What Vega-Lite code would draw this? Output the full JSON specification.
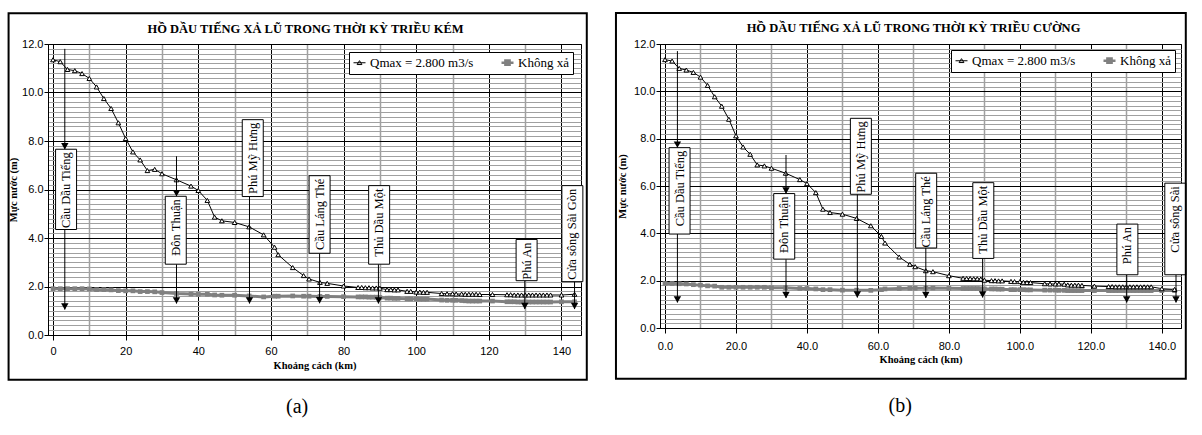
{
  "$schema": "https://vega.github.io/schema/vega-lite/v6.json",
  "background": "white",
  "padding": {"left": 7, "top": 11, "right": 0, "bottom": 0},
  "spacing": 79,
  "bounds": "flush",
  "resolve": {"scale": {"x": "independent", "y": "independent", "color": "independent"}, "legend": {"color": "independent"}},
  "datasets": {
    "a": [
      {"km":0,"q":11.35,"k":1.91},{"km":2,"q":11.27,"k":1.91},{"km":4,"q":10.95,"k":1.91},{"km":6,"q":10.9,"k":1.91},{"km":8,"q":10.78,"k":1.91},{"km":10,"q":10.58,"k":1.9},{"km":12,"q":10.23,"k":1.87},{"km":14,"q":9.75,"k":1.87},{"km":16,"q":9.34,"k":1.86},{"km":18,"q":8.75,"k":1.83},{"km":20,"q":8.1,"k":1.82},{"km":22,"q":7.55,"k":1.82},{"km":24,"q":7.22,"k":1.79},{"km":26,"q":6.78,"k":1.79},{"km":28,"q":6.83,"k":1.78},{"km":30,"q":6.65,"k":1.75},{"km":34,"q":6.4,"k":1.71},{"km":38,"q":6.14,"k":1.69},{"km":40,"q":5.96,"k":1.68},{"km":42.5,"q":5.55,"k":1.68},{"km":44.5,"q":4.86,"k":1.65},{"km":46.5,"q":4.71,"k":1.64},{"km":50,"q":4.64,"k":1.64},{"km":54,"q":4.46,"k":1.61},{"km":58,"q":4.13,"k":1.57},{"km":61,"q":3.62,"k":1.6},{"km":62,"q":3.31,"k":1.6},{"km":66,"q":2.78,"k":1.61},{"km":69,"q":2.45,"k":1.6},{"km":70.5,"q":2.31,"k":1.6},{"km":73.5,"q":2.17,"k":1.59},{"km":75.5,"q":2.13,"k":1.59},{"km":80,"q":2.02,"k":1.58},{"km":84,"q":1.96,"k":1.57},{"km":85,"q":1.96,"k":1.57},{"km":86,"q":1.95,"k":1.57},{"km":87,"q":1.95,"k":1.56},{"km":88,"q":1.94,"k":1.56},{"km":89,"q":1.94,"k":1.56},{"km":90,"q":1.93,"k":1.55},{"km":92,"q":1.87,"k":1.52},{"km":93,"q":1.87,"k":1.52},{"km":94,"q":1.86,"k":1.51},{"km":95,"q":1.86,"k":1.51},{"km":97.5,"q":1.8,"k":1.49},{"km":98.5,"q":1.8,"k":1.49},{"km":100,"q":1.77,"k":1.49},{"km":101,"q":1.77,"k":1.48},{"km":102,"q":1.76,"k":1.48},{"km":103,"q":1.76,"k":1.48},{"km":107,"q":1.71,"k":1.44},{"km":108.5,"q":1.7,"k":1.43},{"km":110,"q":1.7,"k":1.43},{"km":111,"q":1.69,"k":1.43},{"km":112.5,"q":1.69,"k":1.42},{"km":113.5,"q":1.68,"k":1.41},{"km":114.5,"q":1.68,"k":1.4},{"km":115.5,"q":1.68,"k":1.4},{"km":116.5,"q":1.68,"k":1.4},{"km":117.5,"q":1.67,"k":1.4},{"km":121,"q":1.67,"k":1.4},{"km":125,"q":1.66,"k":1.37},{"km":126,"q":1.66,"k":1.37},{"km":127,"q":1.65,"k":1.37},{"km":128,"q":1.65,"k":1.36},{"km":129,"q":1.65,"k":1.36},{"km":130,"q":1.65,"k":1.36},{"km":131,"q":1.65,"k":1.36},{"km":132,"q":1.65,"k":1.36},{"km":133,"q":1.65,"k":1.36},{"km":134,"q":1.65,"k":1.36},{"km":135,"q":1.65,"k":1.36},{"km":136,"q":1.65,"k":1.36},{"km":137,"q":1.65,"k":1.36},{"km":140,"q":1.65,"k":1.37},{"km":143.6,"q":1.68,"k":1.37}
    ],
    "b": [
      {"km":0,"q":11.34,"k":1.88},{"km":2,"q":11.28,"k":1.88},{"km":4,"q":10.97,"k":1.87},{"km":6,"q":10.9,"k":1.86},{"km":8,"q":10.8,"k":1.83},{"km":10,"q":10.6,"k":1.81},{"km":12,"q":10.25,"k":1.78},{"km":14,"q":9.77,"k":1.77},{"km":16,"q":9.37,"k":1.72},{"km":18,"q":8.82,"k":1.72},{"km":20,"q":8.12,"k":1.72},{"km":22,"q":7.65,"k":1.72},{"km":24,"q":7.34,"k":1.72},{"km":26,"q":6.89,"k":1.72},{"km":28,"q":6.85,"k":1.72},{"km":30,"q":6.75,"k":1.7},{"km":34,"q":6.54,"k":1.7},{"km":38,"q":6.27,"k":1.67},{"km":40,"q":6.1,"k":1.67},{"km":42.5,"q":5.72,"k":1.65},{"km":44.5,"q":5.02,"k":1.62},{"km":46.5,"q":4.88,"k":1.62},{"km":50,"q":4.81,"k":1.6},{"km":54,"q":4.63,"k":1.6},{"km":58,"q":4.32,"k":1.59},{"km":61,"q":3.87,"k":1.62},{"km":62,"q":3.59,"k":1.65},{"km":66,"q":3.0,"k":1.67},{"km":69,"q":2.69,"k":1.68},{"km":70.5,"q":2.59,"k":1.68},{"km":73.5,"q":2.42,"k":1.68},{"km":75.5,"q":2.38,"k":1.69},{"km":80,"q":2.21,"k":1.68},{"km":84,"q":2.1,"k":1.67},{"km":85,"q":2.09,"k":1.67},{"km":86,"q":2.09,"k":1.67},{"km":87,"q":2.08,"k":1.67},{"km":88,"q":2.08,"k":1.67},{"km":89,"q":2.07,"k":1.66},{"km":90,"q":2.02,"k":1.65},{"km":92,"q":2.0,"k":1.65},{"km":93,"q":2.0,"k":1.65},{"km":94,"q":1.99,"k":1.64},{"km":95,"q":1.99,"k":1.64},{"km":97.5,"q":1.97,"k":1.62},{"km":98.5,"q":1.96,"k":1.62},{"km":100,"q":1.96,"k":1.62},{"km":101,"q":1.93,"k":1.62},{"km":102,"q":1.92,"k":1.61},{"km":103,"q":1.92,"k":1.61},{"km":107,"q":1.87,"k":1.6},{"km":108.5,"q":1.86,"k":1.6},{"km":110,"q":1.86,"k":1.6},{"km":111,"q":1.86,"k":1.59},{"km":112.5,"q":1.85,"k":1.59},{"km":113.5,"q":1.82,"k":1.58},{"km":114.5,"q":1.81,"k":1.58},{"km":115.5,"q":1.81,"k":1.58},{"km":116.5,"q":1.81,"k":1.58},{"km":117.5,"q":1.8,"k":1.58},{"km":121,"q":1.77,"k":1.58},{"km":125,"q":1.75,"k":1.58},{"km":126,"q":1.75,"k":1.58},{"km":127,"q":1.74,"k":1.58},{"km":128,"q":1.74,"k":1.58},{"km":129,"q":1.74,"k":1.58},{"km":130,"q":1.74,"k":1.58},{"km":131,"q":1.74,"k":1.58},{"km":132,"q":1.74,"k":1.58},{"km":133,"q":1.74,"k":1.58},{"km":134,"q":1.74,"k":1.58},{"km":135,"q":1.74,"k":1.58},{"km":136,"q":1.74,"k":1.58},{"km":137,"q":1.74,"k":1.58},{"km":140,"q":1.66,"k":1.58},{"km":143.6,"q":1.63,"k":1.58}
    ],
    "labA": [
      {"name":"Cầu Dầu Tiếng","km":3.6,"top":7.66,"bottom":4.35},
      {"name":"Đôn Thuận","km":33.8,"top":5.72,"bottom":2.92},
      {"name":"Phú Mỹ Hưng","km":55.0,"top":8.88,"bottom":5.71},
      {"name":"Cầu Láng Thé","km":73.4,"top":6.57,"bottom":3.37},
      {"name":"Thủ Dầu Một","km":89.8,"top":6.16,"bottom":2.92},
      {"name":"Phú An","km":130.4,"top":3.94,"bottom":2.24},
      {"name":"Cửa sông Sài Gòn","km":143.0,"top":6.16,"bottom":2.2}
    ],
    "arrA": [
      {"km":3.25,"from":11.8,"to":7.66},
      {"km":3.25,"from":4.35,"to":1.05},
      {"km":34.0,"from":7.37,"to":5.72},
      {"km":34.0,"from":2.92,"to":1.3},
      {"km":54.1,"from":5.71,"to":1.3},
      {"km":73.4,"from":3.37,"to":1.31},
      {"km":89.6,"from":2.92,"to":1.3},
      {"km":129.9,"from":2.24,"to":1.07},
      {"km":143.6,"from":2.2,"to":1.07}
    ],
    "labB": [
      {"name":"Cầu Dầu Tiếng","km":4.1,"top":7.62,"bottom":3.97},
      {"name":"Đôn Thuận","km":33.6,"top":5.68,"bottom":2.91},
      {"name":"Phú Mỹ Hưng","km":55.2,"top":8.86,"bottom":5.65},
      {"name":"Cầu Láng Thé","km":73.6,"top":6.54,"bottom":3.38},
      {"name":"Thủ Dầu Một","km":89.7,"top":6.14,"bottom":2.94},
      {"name":"Phú An","km":130.3,"top":4.39,"bottom":2.25},
      {"name":"Cửa sông Sài","km":143.8,"top":6.12,"bottom":2.25}
    ],
    "arrB": [
      {"km":3.5,"from":11.7,"to":7.62},
      {"km":3.5,"from":3.97,"to":1.08},
      {"km":34.1,"from":7.31,"to":5.68},
      {"km":34.1,"from":2.91,"to":1.27},
      {"km":54.2,"from":5.65,"to":1.29},
      {"km":73.5,"from":3.38,"to":1.27},
      {"km":89.5,"from":2.94,"to":1.29},
      {"km":130.1,"from":2.25,"to":1.08},
      {"km":144,"from":2.25,"to":1.08}
    ]
  },
  "hconcat": [
    {
      "width": 533,
      "height": 291,
      "title": {"text": "HỒ DẦU TIẾNG XẢ LŨ TRONG THỜI KỲ TRIỀU KÉM", "anchor": "middle", "frame": "group", "dx": -9, "offset": -23},
      "resolve": {"axis": {"x": "independent", "y": "independent"}},
      "layer": [
        {
          "data": {"name": "a"},
          "transform": [{"fold": ["k", "q"], "as": ["series", "level"]}],
          "mark": {"type": "line"},
          "encoding": {
            "x": {"field": "km", "type": "quantitative", "title": "Khoảng cách (km)", "scale": {"domain": [0, 144], "nice": false, "zero": false},
              "axis": {"grid": true, "gridColor": "black", "gridWidth": 1, "values": [0,20,40,60,80,100,120,140], "format": "d", "labelFlush": false, "labelOverlap": false,
                "tickSize": 5, "labelPadding": 5, "titlePadding": 4}},
            "y": {"field": "level", "type": "quantitative", "title": "Mực nước (m)", "scale": {"domain": [0, 12], "nice": false},
              "axis": {"grid": true, "gridColor": "black", "gridWidth": 1, "values": [0,2,4,6,8,10,12], "format": ".1f", "labelOverlap": false, "labelFlush": false,
                "tickSize": 4, "labelPadding": 1, "titlePadding": 3}},
            "color": {"field": "series", "type": "nominal", "scale": {"domain": ["q", "k"], "range": ["black", "#808080"]},
              "legend": {"title": null, "orient": "top-right", "offset": 8, "direction": "horizontal",
                "strokeColor": "black", "fillColor": "white", "padding": 4, "columnPadding": 22,
                "labelFont": "Liberation Serif", "labelFontSize": 13, "labelColor": "black", "labelOffset": 4,
                "labelExpr": "datum.value === 'q' ? 'Qmax = 2.800 m3/s' : 'Không xả'",
                "symbolType": "M-1,0H1", "symbolSize": 144,
                "encode": {"symbols": {"update": {
                  "shape": {"signal": "datum.value === 'q' ? 'M-1,0H1M-0.4,0.3L0,-0.35L0.4,0.3Z' : 'M-1,0H1M-0.35,-0.35H0.35V0.35H-0.35Z'"},
                  "fill": {"signal": "datum.value === 'q' ? 'white' : '#808080'"},
                  "stroke": {"signal": "datum.value === 'q' ? 'black' : '#808080'"},
                  "strokeWidth": {"signal": "datum.value === 'q' ? 1 : 2.5"},
                  "opacity": {"value": 1}}}}}},
            "strokeWidth": {"condition": {"test": "datum.series === 'k'", "value": 3}, "value": 1}
          }
        },
        {
          "data": {"name": "a"},
          "mark": {"type": "point", "shape": "square", "filled": true, "color": "#808080", "size": 22, "opacity": 1},
          "encoding": {
            "x": {"field": "km", "type": "quantitative", "scale": {"domain": [0, 144], "nice": false, "zero": false},
              "axis": {"orient": "top", "grid": true, "gridColor": "#a0a0a0", "gridWidth": 1.5, "values": [10,30,50,70,90,110,130], "labels": false, "ticks": false, "domain": false, "title": null}},
            "y": {"field": "k", "type": "quantitative", "scale": {"domain": [0, 12], "nice": false},
              "axis": {"orient": "right", "grid": true, "gridColor": "#a0a0a0", "gridWidth": 1, "values": [0.2,0.4,0.6,0.8,1,1.2,1.4,1.6,1.8,2.2,2.4,2.6,2.8,3,3.2,3.4,3.6,3.8,4.2,4.4,4.6,4.8,5,5.2,5.4,5.6,5.8,6.2,6.4,6.6,6.8,7,7.2,7.4,7.6,7.8,8.2,8.4,8.6,8.8,9,9.2,9.4,9.6,9.8,10.2,10.4,10.6,10.8,11,11.2,11.4,11.6,11.8], "labels": false, "ticks": false, "domain": false, "title": null}}
          }
        },
        {
          "data": {"name": "a"},
          "mark": {"type": "point", "shape": "triangle-up", "fill": "white", "stroke": "black", "strokeWidth": 1, "size": 22, "opacity": 1},
          "encoding": {
            "x": {"field": "km", "type": "quantitative", "scale": {"domain": [0, 144], "nice": false, "zero": false}, "axis": null},
            "y": {"field": "q", "type": "quantitative", "scale": {"domain": [0, 12], "nice": false}, "axis": null}
          }
        },
        {
          "data": {"name": "arrA"},
          "mark": {"type": "rule", "color": "black", "strokeWidth": 1},
          "encoding": {
            "x": {"field": "km", "type": "quantitative", "scale": {"domain": [0, 144], "nice": false, "zero": false}, "axis": null},
            "y": {"field": "from", "type": "quantitative", "scale": {"domain": [0, 12], "nice": false}, "axis": null},
            "y2": {"field": "to"}
          }
        },
        {
          "data": {"name": "arrA"},
          "mark": {"type": "point", "shape": "triangle-down", "filled": true, "color": "black", "size": 55, "yOffset": -3, "opacity": 1},
          "encoding": {
            "x": {"field": "km", "type": "quantitative", "scale": {"domain": [0, 144], "nice": false, "zero": false}, "axis": null},
            "y": {"field": "to", "type": "quantitative", "scale": {"domain": [0, 12], "nice": false}, "axis": null}
          }
        },
        {
          "data": {"name": "labA"},
          "mark": {"type": "bar", "width": 21, "fill": "white", "stroke": "black", "strokeWidth": 1},
          "encoding": {
            "x": {"field": "km", "type": "quantitative", "scale": {"domain": [0, 144], "nice": false, "zero": false}, "axis": null},
            "y": {"field": "top", "type": "quantitative", "scale": {"domain": [0, 12], "nice": false}, "axis": null},
            "y2": {"field": "bottom"}
          }
        },
        {
          "data": {"name": "labA"},
          "mark": {"type": "text", "angle": 270, "align": "right", "baseline": "middle", "dx": -3, "font": "Liberation Serif", "fontSize": 12.5, "color": "black"},
          "encoding": {
            "x": {"field": "km", "type": "quantitative", "scale": {"domain": [0, 144], "nice": false, "zero": false}, "axis": null},
            "y": {"field": "top", "type": "quantitative", "scale": {"domain": [0, 12], "nice": false}, "axis": null},
            "text": {"field": "name"}
          }
        },
        {
          "data": {"values": [{}]},
          "mark": {"type": "text", "text": "(a)", "font": "Liberation Serif", "fontSize": 20, "baseline": "middle", "color": "black"},
          "encoding": {
            "x": {"datum": 67.2, "type": "quantitative", "scale": {"domain": [0, 144], "nice": false, "zero": false}, "axis": null},
            "y": {"datum": -2.96, "type": "quantitative", "scale": {"domain": [0, 12], "nice": false}, "axis": null}
          }
        },
        {
          "data": {"values": [{}]},
          "mark": {"type": "rect", "filled": false, "stroke": "black", "strokeWidth": 2},
          "encoding": {
            "x": {"datum": -12.23, "type": "quantitative", "scale": {"domain": [0, 144], "nice": false, "zero": false}, "axis": null},
            "x2": {"datum": 146.97},
            "y": {"datum": 13.27, "type": "quantitative", "scale": {"domain": [0, 12], "nice": false}, "axis": null},
            "y2": {"datum": -1.85}
          }
        }
      ]
    },
    {
      "width": 521,
      "height": 284,
      "title": {"text": "HỒ DẦU TIẾNG XẢ LŨ TRONG THỜI KỲ TRIỀU CƯỜNG", "anchor": "middle", "frame": "group", "dx": -7, "offset": -23},
      "resolve": {"axis": {"x": "independent", "y": "independent"}},
      "layer": [
        {
          "data": {"name": "b"},
          "transform": [{"fold": ["k", "q"], "as": ["series", "level"]}],
          "mark": {"type": "line"},
          "encoding": {
            "x": {"field": "km", "type": "quantitative", "title": "Khoảng cách (km)", "scale": {"domain": [0, 144], "nice": false, "zero": false},
              "axis": {"grid": true, "gridColor": "black", "gridWidth": 1, "values": [0,20,40,60,80,100,120,140], "format": ".1f", "labelFlush": false, "labelOverlap": false,
                "tickSize": 5, "labelPadding": 7, "titlePadding": 3}},
            "y": {"field": "level", "type": "quantitative", "title": "Mực nước (m)", "scale": {"domain": [0, 12], "nice": false},
              "axis": {"grid": true, "gridColor": "black", "gridWidth": 1, "values": [0,2,4,6,8,10,12], "format": ".1f", "labelOverlap": false, "labelFlush": false,
                "tickSize": 4, "labelPadding": 1, "titlePadding": 6}},
            "color": {"field": "series", "type": "nominal", "scale": {"domain": ["q", "k"], "range": ["black", "#808080"]},
              "legend": {"title": null, "orient": "top-right", "offset": 6, "direction": "horizontal",
                "strokeColor": "black", "fillColor": "white", "padding": 4, "columnPadding": 22,
                "labelFont": "Liberation Serif", "labelFontSize": 13, "labelColor": "black", "labelOffset": 4,
                "labelExpr": "datum.value === 'q' ? 'Qmax = 2.800 m3/s' : 'Không xả'",
                "symbolType": "M-1,0H1", "symbolSize": 144,
                "encode": {"symbols": {"update": {
                  "shape": {"signal": "datum.value === 'q' ? 'M-1,0H1M-0.4,0.3L0,-0.35L0.4,0.3Z' : 'M-1,0H1M-0.35,-0.35H0.35V0.35H-0.35Z'"},
                  "fill": {"signal": "datum.value === 'q' ? 'white' : '#808080'"},
                  "stroke": {"signal": "datum.value === 'q' ? 'black' : '#808080'"},
                  "strokeWidth": {"signal": "datum.value === 'q' ? 1 : 2.5"},
                  "opacity": {"value": 1}}}}}},
            "strokeWidth": {"condition": {"test": "datum.series === 'k'", "value": 3}, "value": 1}
          }
        },
        {
          "data": {"name": "b"},
          "mark": {"type": "point", "shape": "square", "filled": true, "color": "#808080", "size": 22, "opacity": 1},
          "encoding": {
            "x": {"field": "km", "type": "quantitative", "scale": {"domain": [0, 144], "nice": false, "zero": false},
              "axis": {"orient": "top", "grid": true, "gridColor": "#a0a0a0", "gridWidth": 1.5, "values": [10,30,50,70,90,110,130], "labels": false, "ticks": false, "domain": false, "title": null}},
            "y": {"field": "k", "type": "quantitative", "scale": {"domain": [0, 12], "nice": false},
              "axis": {"orient": "right", "grid": true, "gridColor": "#a0a0a0", "gridWidth": 1, "values": [0.2,0.4,0.6,0.8,1,1.2,1.4,1.6,1.8,2.2,2.4,2.6,2.8,3,3.2,3.4,3.6,3.8,4.2,4.4,4.6,4.8,5,5.2,5.4,5.6,5.8,6.2,6.4,6.6,6.8,7,7.2,7.4,7.6,7.8,8.2,8.4,8.6,8.8,9,9.2,9.4,9.6,9.8,10.2,10.4,10.6,10.8,11,11.2,11.4,11.6,11.8], "labels": false, "ticks": false, "domain": false, "title": null}}
          }
        },
        {
          "data": {"name": "b"},
          "mark": {"type": "point", "shape": "triangle-up", "fill": "white", "stroke": "black", "strokeWidth": 1, "size": 22, "opacity": 1},
          "encoding": {
            "x": {"field": "km", "type": "quantitative", "scale": {"domain": [0, 144], "nice": false, "zero": false}, "axis": null},
            "y": {"field": "q", "type": "quantitative", "scale": {"domain": [0, 12], "nice": false}, "axis": null}
          }
        },
        {
          "data": {"name": "arrB"},
          "mark": {"type": "rule", "color": "black", "strokeWidth": 1},
          "encoding": {
            "x": {"field": "km", "type": "quantitative", "scale": {"domain": [0, 144], "nice": false, "zero": false}, "axis": null},
            "y": {"field": "from", "type": "quantitative", "scale": {"domain": [0, 12], "nice": false}, "axis": null},
            "y2": {"field": "to"}
          }
        },
        {
          "data": {"name": "arrB"},
          "mark": {"type": "point", "shape": "triangle-down", "filled": true, "color": "black", "size": 55, "yOffset": -3, "opacity": 1},
          "encoding": {
            "x": {"field": "km", "type": "quantitative", "scale": {"domain": [0, 144], "nice": false, "zero": false}, "axis": null},
            "y": {"field": "to", "type": "quantitative", "scale": {"domain": [0, 12], "nice": false}, "axis": null}
          }
        },
        {
          "data": {"name": "labB"},
          "mark": {"type": "bar", "width": 21, "fill": "white", "stroke": "black", "strokeWidth": 1},
          "encoding": {
            "x": {"field": "km", "type": "quantitative", "scale": {"domain": [0, 144], "nice": false, "zero": false}, "axis": null},
            "y": {"field": "top", "type": "quantitative", "scale": {"domain": [0, 12], "nice": false}, "axis": null},
            "y2": {"field": "bottom"}
          }
        },
        {
          "data": {"name": "labB"},
          "mark": {"type": "text", "angle": 270, "align": "right", "baseline": "middle", "dx": -3, "font": "Liberation Serif", "fontSize": 12.5, "color": "black"},
          "encoding": {
            "x": {"field": "km", "type": "quantitative", "scale": {"domain": [0, 144], "nice": false, "zero": false}, "axis": null},
            "y": {"field": "top", "type": "quantitative", "scale": {"domain": [0, 12], "nice": false}, "axis": null},
            "text": {"field": "name"}
          }
        },
        {
          "data": {"values": [{}]},
          "mark": {"type": "text", "text": "(b)", "font": "Liberation Serif", "fontSize": 20, "baseline": "middle", "color": "black"},
          "encoding": {
            "x": {"datum": 66.3, "type": "quantitative", "scale": {"domain": [0, 144], "nice": false, "zero": false}, "axis": null},
            "y": {"datum": -3.28, "type": "quantitative", "scale": {"domain": [0, 12], "nice": false}, "axis": null}
          }
        },
        {
          "data": {"values": [{}]},
          "mark": {"type": "rect", "filled": false, "stroke": "black", "strokeWidth": 2},
          "encoding": {
            "x": {"datum": -13.82, "type": "quantitative", "scale": {"domain": [0, 144], "nice": false, "zero": false}, "axis": null},
            "x2": {"datum": 146.76},
            "y": {"datum": 13.31, "type": "quantitative", "scale": {"domain": [0, 12], "nice": false}, "axis": null},
            "y2": {"datum": -2.14}
          }
        }
      ]
    }
  ],
  "config": {
    "view": {"stroke": "black", "strokeWidth": 1},
    "axis": {"labelFont": "Liberation Sans", "labelFontSize": 11, "labelColor": "black", "titleFont": "Liberation Serif", "titleFontSize": 10.5, "titleFontWeight": "bold", "titleColor": "black", "domainColor": "black", "tickColor": "black", "gridOpacity": 1},
    "title": {"font": "Liberation Serif", "fontSize": 12.5, "fontWeight": "bold", "color": "black"}
  }
}
